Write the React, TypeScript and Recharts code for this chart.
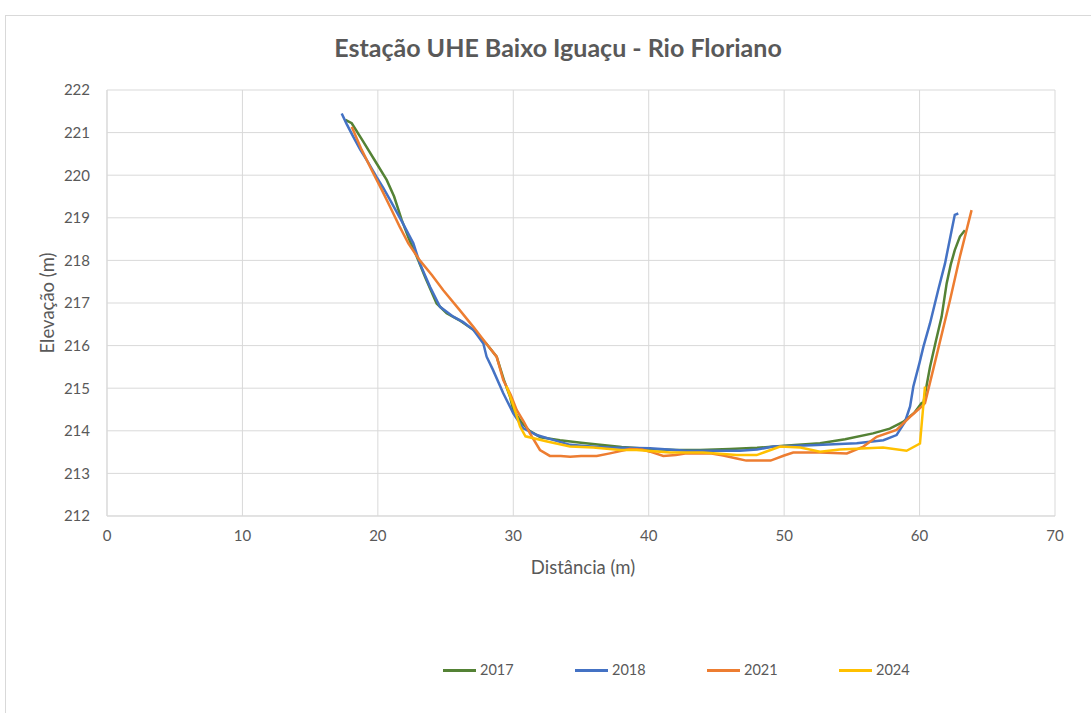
import { CartesianGrid, Line, LineChart, XAxis, YAxis } from "recharts";

// distance (m) / elevation (m) per survey year
const dist2017 = [17.6, 18.07, 18.9, 19.9, 20.65, 21.2, 21.76, 22.3, 22.87, 23.5, 24.34, 25.08, 26.0, 27.05, 28.0, 28.77, 29.3, 29.76, 30.0, 30.6, 31.2, 32.0, 33.45, 35.0, 36.4, 38.0, 40.1, 42.0, 43.8, 46.0, 48.0, 50.0, 52.65, 54.5, 56.56, 57.8, 58.78, 59.6, 60.15, 60.28, 60.77, 61.2, 61.63, 62.0, 62.3, 62.6, 62.98, 63.35];
const elev2017 = [221.3, 221.22, 220.8, 220.28, 219.89, 219.5, 218.95, 218.5, 218.09, 217.6, 216.99, 216.76, 216.6, 216.37, 216.05, 215.74, 215.2, 214.8, 214.49, 214.2, 214.0, 213.85, 213.78, 213.72, 213.67, 213.62, 213.57, 213.55, 213.55, 213.57, 213.6, 213.65, 213.71, 213.8, 213.94, 214.05, 214.21, 214.42, 214.65, 214.65, 215.5, 216.1, 216.68, 217.46, 217.9, 218.24, 218.56, 218.71];

const dist2018 = [17.33, 17.7, 18.19, 18.7, 19.17, 19.9, 20.4, 20.9, 21.8, 22.62, 23.1, 23.85, 24.59, 25.57, 26.3, 27.05, 27.79, 28.03, 28.5, 29.26, 30.0, 30.74, 31.73, 33.0, 34.19, 35.5, 37.14, 40.1, 42.8, 45.3, 46.74, 48.0, 49.2, 52.0, 55.36, 57.33, 58.3, 58.92, 59.3, 59.54, 60.0, 60.28, 60.77, 61.38, 61.88, 62.37, 62.6, 62.86];
const elev2018 = [221.45, 221.2, 220.9, 220.6, 220.36, 219.96, 219.7, 219.42, 218.9, 218.4, 217.93, 217.38, 216.91, 216.68, 216.55, 216.37, 216.05, 215.74, 215.43, 214.88, 214.41, 214.06, 213.9, 213.78, 213.67, 213.64, 213.61, 213.59, 213.53, 213.53, 213.53, 213.56, 213.63, 213.66, 213.71, 213.78, 213.9, 214.21, 214.57, 215.04, 215.6, 215.97, 216.52, 217.31, 217.93, 218.71, 219.07, 219.1];

const dist2021 = [18.07, 18.8, 19.67, 20.3, 20.9, 21.6, 22.25, 23.1, 24.0, 24.83, 26.0, 27.05, 28.0, 28.77, 29.26, 29.8, 30.25, 30.8, 31.23, 31.97, 32.7, 33.5, 34.2, 35.0, 36.16, 37.14, 38.6, 39.5, 40.1, 41.08, 42.0, 42.8, 44.52, 45.5, 46.5, 47.2, 49.0, 50.0, 50.67, 52.65, 54.63, 55.85, 56.83, 58.3, 59.3, 60.15, 60.4, 61.0, 62.25, 62.98, 63.84];
const elev2021 = [221.14, 220.6, 220.04, 219.65, 219.26, 218.8, 218.4, 218.0, 217.65, 217.3, 216.85, 216.44, 216.05, 215.74, 215.19, 214.85, 214.49, 214.2, 213.94, 213.55, 213.41, 213.41, 213.39, 213.41, 213.41, 213.47, 213.57, 213.56, 213.51, 213.41, 213.43, 213.47, 213.47, 213.42, 213.35, 213.3, 213.3, 213.42, 213.49, 213.49, 213.47, 213.63, 213.86, 214.02, 214.33, 214.57, 214.65, 215.43, 217.07, 218.09, 219.18];

const dist2024 = [29.5, 30.0, 30.5, 30.9, 32.5, 34.19, 35.9, 37.9, 39.1, 41.57, 44.0, 46.5, 47.97, 49.0, 49.7, 51.2, 52.65, 54.1, 57.3, 59.04, 60.03, 60.4];
const elev2024 = [215.05, 214.6, 214.1, 213.87, 213.75, 213.63, 213.61, 213.55, 213.55, 213.49, 213.49, 213.43, 213.43, 213.55, 213.63, 213.61, 213.51, 213.56, 213.61, 213.53, 213.7, 215.04];

const xTicks = [0, 10, 20, 30, 40, 50, 60, 70];
const yTicks = [212, 213, 214, 215, 216, 217, 218, 219, 220, 221, 222];

const toPoints = (xs: number[], ys: number[]) =>
  xs.map((x, i) => ({ x, y: ys[i] }));

const series = [
  { name: "2017", color: "#548235", data: toPoints(dist2017, elev2017) },
  { name: "2018", color: "#4472c4", data: toPoints(dist2018, elev2018) },
  { name: "2021", color: "#ed7d31", data: toPoints(dist2021, elev2021) },
  { name: "2024", color: "#ffc000", data: toPoints(dist2024, elev2024) },
];

const font = "Lato, 'Open Sans', sans-serif";
const textColor = "#595959";

function LegendRow() {
  return (
    <div
      style={{
        position: "absolute",
        left: 443,
        top: 660,
        display: "flex",
        fontFamily: font,
        fontSize: 14.5,
        color: textColor,
        lineHeight: "20px",
      }}
    >
      {series.map((s) => (
        <div key={s.name} style={{ display: "flex", alignItems: "center", width: 132 }}>
          <span
            style={{
              display: "inline-block",
              width: 33,
              height: 3,
              background: s.color,
              marginRight: 4,
            }}
          />
          {s.name}
        </div>
      ))}
    </div>
  );
}

export default function App() {
  return (
    <div
      style={{
        position: "absolute",
        left: 0,
        top: 0,
        width: 1091,
        height: 713,
        overflow: "hidden",
        background: "#fff",
      }}
    >
      <div
        style={{
          position: "absolute",
          left: 5,
          top: 15,
          width: 1100,
          height: 720,
          border: "1px solid #d9d9d9",
        }}
      />
      <div
        style={{
          position: "absolute",
          top: 31,
          left: 0,
          width: 1116,
          textAlign: "center",
          fontFamily: font,
          fontWeight: 700,
          fontSize: 25,
          lineHeight: "32px",
          color: textColor,
        }}
      >
        Estação UHE Baixo Iguaçu - Rio Floriano
      </div>
      <div
        style={{
          position: "absolute",
          left: 47,
          top: 303,
          transform: "translate(-50%, -50%) rotate(-90deg)",
          fontFamily: font,
          fontSize: 18.5,
          color: textColor,
          whiteSpace: "nowrap",
        }}
      >
        Elevação (m)
      </div>
      <div
        style={{
          position: "absolute",
          left: 583,
          top: 567,
          transform: "translate(-50%, -50%)",
          fontFamily: font,
          fontSize: 18.5,
          color: textColor,
          whiteSpace: "nowrap",
        }}
      >
        Distância (m)
      </div>
      <div style={{ position: "absolute", left: 0, top: 0 }}>
        <LineChart
          width={1091}
          height={713}
          margin={{ top: 90, right: 36, bottom: 167, left: 47 }}
        >
          <CartesianGrid stroke="#d9d9d9" strokeWidth={1} />
          <XAxis
            type="number"
            dataKey="x"
            domain={[0, 70]}
            ticks={xTicks}
            allowDuplicatedCategory={false}
            height={30}
            axisLine={{ stroke: "#d9d9d9" }}
            tickLine={false}
            tickSize={8}
            tickMargin={6}
            tick={{ fill: textColor, fontSize: 15, fontFamily: font }}
          />
          <YAxis
            type="number"
            dataKey="y"
            domain={[212, 222]}
            ticks={yTicks}
            width={60}
            axisLine={{ stroke: "#d9d9d9" }}
            tickLine={false}
            tickSize={8}
            tickMargin={9}
            tick={{ fill: textColor, fontSize: 15, fontFamily: font }}
          />
          {series.map((s) => (
            <Line
              key={s.name}
              name={s.name}
              data={s.data}
              dataKey="y"
              type="linear"
              stroke={s.color}
              strokeWidth={2.5}
              dot={false}
              activeDot={false}
              isAnimationActive={false}
            />
          ))}
        </LineChart>
      </div>
      <LegendRow />
    </div>
  );
}
